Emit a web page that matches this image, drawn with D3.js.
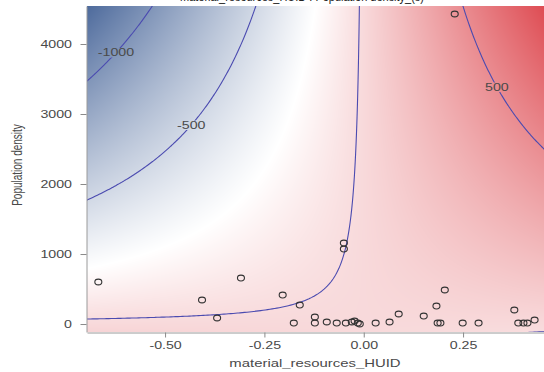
<!DOCTYPE html>
<html><head><meta charset="utf-8">
<script src="https://cdn.jsdelivr.net/npm/d3@7"></script>
<style>html,body{margin:0;padding:0;background:#fff;overflow:hidden}</style>
</head><body>
<svg id="chart" width="544" height="372" xmlns="http://www.w3.org/2000/svg"></svg>
<script>
// ---------------- data ----------------
const titleText = "material_resources_HUID : Population density_(s)";
const xLabel = "material_resources_HUID";
const yLabel = "Population density";
const xTicks = [-0.50, -0.25, 0.00, 0.25];
const xTickLabels = ["-0.50", "-0.25", "0.00", "0.25"];
const yTicks = [0, 1000, 2000, 3000, 4000];
const yTickLabels = ["0", "1000", "2000", "3000", "4000"];
const contourLevels = [-1000, -500, 0, 500];
const contourLabels = ["-1000", "-500", "", "500"];
const contourLabelX = [-0.6235, -0.434, null, 0.335];
// fitted surface: z = intercept + interaction * x * y
const surfaceIntercept = 21;
const surfaceInteraction = 0.4223;
const pointX = [-0.668, -0.407, -0.369, -0.309, -0.204, -0.161, -0.176, -0.123, -0.123, -0.093,
                -0.068, -0.045, -0.030, -0.023, -0.015, -0.010, -0.050, -0.050, 0.030, 0.065,
                0.088, 0.151, 0.183, 0.186, 0.193, 0.204, 0.249, 0.289, 0.379, 0.389,
                0.402, 0.412, 0.430, 0.229];
const pointY = [600, 343, 86, 657, 414, 271, 14, 100, 14, 29,
                14, 14, 29, 43, 14, 0, 1157, 1071, 14, 29,
                143, 114, 257, 14, 14, 486, 14, 14, 200, 14,
                14, 14, 57, 4429];

// ---------------- layout ----------------
const W = 544, H = 372;
const plot = {left: 87, right: 544, top: 6, bottom: 332};
const SX = 1.42; // horizontal stretch of text seen in the reference
const font = "'Liberation Sans', Arial, sans-serif";

const x = d3.scaleLinear().domain([-0.6965, 0.4537]).range([plot.left, plot.right]);
const y = d3.scaleLinear().domain([-114, 4543]).range([plot.bottom, plot.top]);
const field = (a, b) => surfaceIntercept + surfaceInteraction * a * b;

const fmin = field(x.domain()[0], y.domain()[1]);
const fmax = field(x.domain()[1], y.domain()[1]);
const color = d3.scaleLinear()
  .domain([fmin, (fmin + fmax) / 2, fmax])
  .range(["#4d6a9c", "#ffffff", "#de4c53"])
  .interpolate(d3.interpolateRgb)
  .clamp(true);

const svg = d3.select("#chart");
const defs = svg.append("defs");
defs.append("clipPath").attr("id", "plotclip").append("rect")
  .attr("x", plot.left).attr("y", plot.top)
  .attr("width", plot.right - plot.left).attr("height", plot.bottom - plot.top);

// ---------------- background raster ----------------
const pw = plot.right - plot.left, ph = plot.bottom - plot.top;
const canvas = document.createElement("canvas");
canvas.width = pw; canvas.height = ph;
const ctx = canvas.getContext("2d");
const img = ctx.createImageData(pw, ph);
for (let j = 0; j < ph; j++) {
  const dy = y.invert(plot.top + j + 0.5);
  for (let i = 0; i < pw; i++) {
    const dx = x.invert(plot.left + i + 0.5);
    const c = d3.rgb(color(field(dx, dy)));
    const k = (j * pw + i) * 4;
    img.data[k] = c.r; img.data[k + 1] = c.g; img.data[k + 2] = c.b; img.data[k + 3] = 255;
  }
}
ctx.putImageData(img, 0, 0);
svg.append("image")
  .attr("x", plot.left).attr("y", plot.top)
  .attr("width", pw).attr("height", ph)
  .attr("preserveAspectRatio", "none")
  .attr("href", canvas.toDataURL());

// ---------------- contours ----------------
const n = 260, m = 260;
const gx0 = -0.85, gx1 = 0.65, gy0 = -500, gy1 = 5000;
const gdx = (gx1 - gx0) / (n - 1), gdy = (gy1 - gy0) / (m - 1);
const values = new Float64Array(n * m);
for (let j = 0; j < m; j++) for (let i = 0; i < n; i++)
  values[j * n + i] = field(gx0 + i * gdx, gy0 + j * gdy);
const contours = d3.contours().size([n, m]).thresholds(contourLevels)(values);
const proj = d3.geoTransform({
  point: function(gx, gy) {
    this.stream.point(x(gx0 + (gx - 0.5) * gdx), y(gy0 + (gy - 0.5) * gdy));
  }
});
const path = d3.geoPath(proj);

// mask to break lines under labels
const mask = defs.append("mask").attr("id", "labelmask").attr("maskUnits", "userSpaceOnUse")
  .attr("x", 0).attr("y", 0).attr("width", W).attr("height", H);
mask.append("rect").attr("x", 0).attr("y", 0).attr("width", W).attr("height", H).attr("fill", "#fff");

const plotG = svg.append("g").attr("clip-path", "url(#plotclip)");
plotG.append("g").attr("mask", "url(#labelmask)")
  .selectAll("path").data(contours).join("path")
  .attr("d", path)
  .attr("fill", "none")
  .attr("stroke", "#4b4bb0")
  .attr("stroke-width", 1.1);

// contour labels
const labG = plotG.append("g");
contourLevels.forEach((lev, k) => {
  if (!contourLabels[k]) return;
  const lx = contourLabelX[k];
  const ly = (lev - surfaceIntercept) / (surfaceInteraction * lx);
  const px = x(lx), py = y(ly);
  const t = labG.append("text")
    .attr("transform", `translate(${px},${py}) scale(${SX},1)`)
    .attr("text-anchor", "middle").attr("dy", "0.35em")
    .attr("font-family", font).attr("font-size", 10)
    .attr("fill", "#4a4a4a").text(contourLabels[k]);
  const bb = t.node().getBBox();
  mask.append("rect")
    .attr("x", px + bb.x * SX - 1).attr("y", py + bb.y + 1)
    .attr("width", bb.width * SX + 2).attr("height", bb.height - 2)
    .attr("fill", "#000");
});

// points
plotG.append("g").selectAll("ellipse").data(pointX.map((v, i) => [v, pointY[i]])).join("ellipse")
  .attr("cx", d => x(d[0])).attr("cy", d => y(d[1]))
  .attr("rx", 3.5).attr("ry", 2.9)
  .attr("fill", "none").attr("stroke", "#333").attr("stroke-width", 1.1);

// ---------------- axes ----------------
const yAxis = svg.append("g").attr("transform", `translate(${plot.left - 0.5},0)`)
  .call(d3.axisLeft(y).tickValues(yTicks).tickFormat((d, i) => yTickLabels[i]).tickSize(6).tickSizeOuter(0));
yAxis.select(".domain").attr("stroke", "#9a9a9a");
yAxis.selectAll(".tick line").attr("stroke", "#8a8a8a");
yAxis.selectAll(".tick text")
  .attr("x", null).attr("dy", "0.34em")
  .attr("transform", `translate(-14.5,0) scale(${SX},1)`)
  .attr("font-family", font).attr("font-size", 10).attr("fill", "#4a4a4a");

const xAxis = svg.append("g").attr("transform", `translate(0,${plot.bottom + 0.5})`)
  .call(d3.axisBottom(x).tickValues(xTicks).tickFormat((d, i) => xTickLabels[i]).tickSize(5).tickSizeOuter(0));
xAxis.select(".domain").attr("stroke", "#9a9a9a");
xAxis.selectAll(".tick line").attr("stroke", "#8a8a8a");
xAxis.selectAll(".tick text")
  .attr("y", null).attr("dy", null)
  .attr("transform", `translate(0,16.5) scale(${SX},1)`)
  .attr("font-family", font).attr("font-size", 10).attr("fill", "#4a4a4a");

// axis titles
svg.append("text")
  .attr("transform", `translate(315,367) scale(${SX},1)`)
  .attr("text-anchor", "middle")
  .attr("font-family", font).attr("font-size", 10.5).attr("fill", "#4a4a4a")
  .text(xLabel);
svg.append("text")
  .attr("transform", `translate(22,165) rotate(-90) scale(1,${SX})`)
  .attr("text-anchor", "middle")
  .attr("font-family", font).attr("font-size", 10).attr("fill", "#4a4a4a")
  .text(yLabel);

// title (mostly cut off at the top edge in the reference)
svg.append("text")
  .attr("x", 180).attr("y", 0.5)
  .attr("textLength", 244).attr("lengthAdjust", "spacingAndGlyphs")
  .attr("font-family", font).attr("font-size", 12).attr("fill", "#222")
  .text(titleText);
</script>
</body></html>
